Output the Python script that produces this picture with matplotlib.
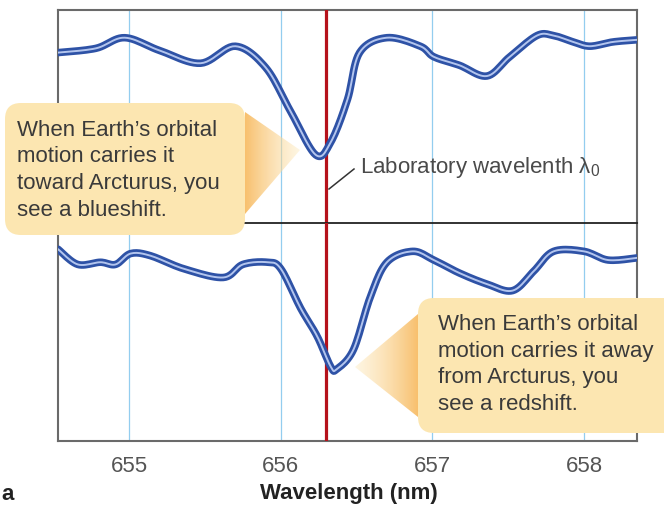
import numpy as np
import matplotlib
matplotlib.use("Agg")
import matplotlib.pyplot as plt
from matplotlib.patches import FancyBboxPatch, Polygon

plt.rcParams['font.family'] = ['Liberation Sans', 'DejaVu Sans']

# spectrum (relative flux, 0..1 inside each panel)
wl_top = [654.53, 654.78, 654.97, 655.20, 655.47, 655.70, 655.90, 656.06, 656.23,
          656.33, 656.44, 656.52, 656.70, 656.92, 657.01, 657.18, 657.36, 657.51,
          657.69, 657.80, 657.93, 658.04, 658.19, 658.35]
flux_top = [0.80, 0.82, 0.87, 0.81, 0.75, 0.83, 0.73, 0.53, 0.32,
            0.38, 0.58, 0.80, 0.87, 0.83, 0.78, 0.74, 0.69, 0.78,
            0.88, 0.88, 0.85, 0.83, 0.85, 0.86]

wl_bot = [654.53, 654.66, 654.81, 654.91, 655.01, 655.14, 655.36, 655.62, 655.75,
          655.91, 656.00, 656.13, 656.24, 656.33, 656.37, 656.48, 656.59, 656.70,
          656.87, 657.01, 657.18, 657.36, 657.53, 657.67, 657.80, 658.00, 658.16,
          658.35]
flux_bot = [0.88, 0.81, 0.82, 0.81, 0.86, 0.85, 0.79, 0.75, 0.81,
            0.82, 0.79, 0.61, 0.48, 0.34, 0.33, 0.42, 0.66, 0.82,
            0.87, 0.83, 0.77, 0.72, 0.69, 0.78, 0.87, 0.87, 0.83,
            0.84]

lab_wl = 656.30
tick_wl = [655, 656, 657, 658]
xlim = (654.53, 658.35)

text_blue = ["When Earth\u2019s orbital", "motion carries it",
             "toward Arcturus, you", "see a blueshift."]
text_red = ["When Earth\u2019s orbital", "motion carries it away",
            "from Arcturus, you", "see a redshift."]


def smooth(x, y, n=12):
    # catmull-rom through the read points, just for drawing
    p = np.column_stack([x, y])
    p = np.vstack([p[0], p, p[-1]])
    out = []
    t = np.linspace(0, 1, n, endpoint=False)[:, None]
    for i in range(1, len(p) - 2):
        p0, p1, p2, p3 = p[i - 1], p[i], p[i + 1], p[i + 2]
        seg = 0.5 * ((2 * p1) + (-p0 + p2) * t + (2 * p0 - 5 * p1 + 4 * p2 - p3) * t ** 2
                     + (-p0 + 3 * p1 - 3 * p2 + p3) * t ** 3)
        out.append(seg)
    out.append(p[-2][None, :])
    out = np.vstack(out)
    return out[:, 0], out[:, 1]


W, H = 664, 514
fig = plt.figure(figsize=(W / 100, H / 100), dpi=100)

def px_rect(x0, y0, x1, y1):
    return [x0 / W, 1 - y1 / H, (x1 - x0) / W, (y1 - y0) / H]

ax_top = fig.add_axes(px_rect(58, 10, 637, 223))
ax_bot = fig.add_axes(px_rect(58, 223, 637, 441))

for ax, wl, fl in [(ax_top, wl_top, flux_top), (ax_bot, wl_bot, flux_bot)]:
    ax.set_xlim(*xlim)
    ax.set_ylim(0, 1)
    for t in tick_wl:
        ax.axvline(t, color='#93cdef', lw=0.9, zorder=1)
    ax.axvline(lab_wl, color='#b5121b', lw=2.3, zorder=3)
    sx, sy = smooth(wl, fl)
    ax.plot(sx, sy, color='#2e52a6', lw=5.4, solid_capstyle='round', zorder=4)
    ax.plot(sx, sy, color='#b3c5ee', lw=1.4, solid_capstyle='round', zorder=5)
    ax.set_yticks([])
    for s in ax.spines.values():
        s.set_color('#6a6a6a')
        s.set_linewidth(1.5)

ax_top.set_xticks([])
ax_top.spines['bottom'].set_visible(False)
ax_bot.spines['top'].set_color('#222222')
ax_bot.spines['top'].set_linewidth(1.3)
ax_bot.set_xticks(tick_wl)
ax_bot.set_xticklabels([str(t) for t in tick_wl])
ax_bot.tick_params(axis='x', length=0, labelsize=16, labelcolor='#555555', pad=11)

# overlay in pixel coordinates for callouts
ov = fig.add_axes([0, 0, 1, 1], zorder=10)
ov.set_xlim(0, W)
ov.set_ylim(H, 0)
ov.axis('off')
ov.patch.set_alpha(0)

box_col = '#fce6b1'


def pointer(base_x, y0, y1, tip, direction):
    tri = Polygon([(base_x, y0), (base_x, y1), tip], closed=True,
                  facecolor='none', edgecolor='none')
    ov.add_patch(tri)
    xmin, xmax = sorted([base_x, tip[0]])
    g = np.linspace(0, 1, 64)
    if direction < 0:
        g = g[::-1]
    c0 = np.array([0.97, 0.71, 0.33])
    c1 = np.array([0.99, 0.91, 0.72])
    rgb = c0[None, :] * (1 - g[:, None]) + c1[None, :] * g[:, None]
    a = 0.85 - 0.45 * g
    img = np.concatenate([rgb, a[:, None]], axis=1)[None, :, :]
    im = ov.imshow(img, extent=(xmin, xmax, max(y0, y1), min(y0, y1)),
                   aspect='auto', interpolation='bilinear', zorder=2)
    im.set_clip_path(tri)


ov.add_patch(FancyBboxPatch((5, 103), 240, 132, boxstyle='round,pad=0,rounding_size=16',
                            facecolor=box_col, edgecolor='none', zorder=3))
pointer(245, 112, 214, (300, 150), 1)
ov.add_patch(FancyBboxPatch((418, 298), 270, 135, boxstyle='round,pad=0,rounding_size=16',
                            facecolor=box_col, edgecolor='none', zorder=3))
pointer(418, 314, 417, (355, 367), -1)

for line, y in zip(text_blue, [130, 157, 183, 210]):
    ov.text(17, y, line, fontsize=16, color='#3a3a3a', va='center', ha='left', zorder=5)
for line, y in zip(text_red, [325, 352, 378, 404]):
    ov.text(438, y, line, fontsize=16, color='#3a3a3a', va='center', ha='left', zorder=5)

ov.plot([329, 354], [189, 169], color='#333333', lw=1.1, zorder=5)
ov.text(360, 167, r'Laboratory wavelenth $\mathregular{\lambda_0}$', fontsize=16,
        color='#4a4a4a', va='center', ha='left', zorder=5)

ov.text(349, 494, 'Wavelength (nm)', fontsize=16, fontweight='bold', color='#222222',
        ha='center', va='center')
ov.text(1, 494, 'a', fontsize=16, fontweight='bold', color='#222222',
        ha='left', va='center')

fig.savefig('out.png', dpi=100)
